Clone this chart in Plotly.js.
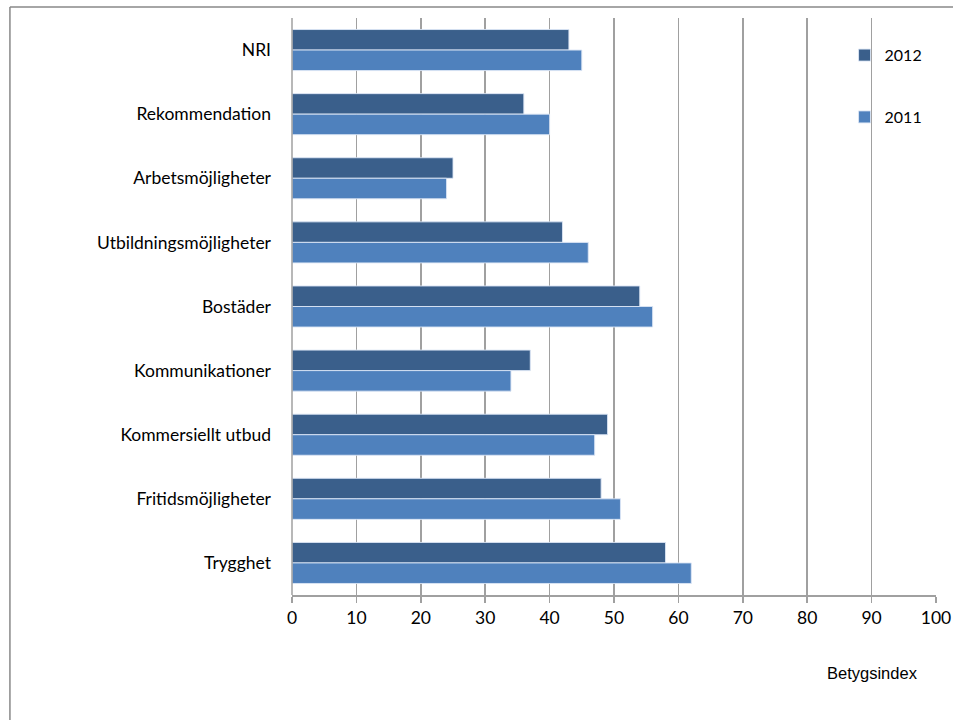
<!DOCTYPE html>
<html>
<head>
<meta charset="utf-8">
<script src="https://cdn.plot.ly/plotly-3.0.1.min.js"></script>
<style>
html,body{margin:0;padding:0;background:#fff;}
#chart{width:953px;height:720px;}
</style>
</head>
<body>
<div id="chart"></div>
<script>
const categories = ["NRI","Rekommendation","Arbetsmöjligheter","Utbildningsmöjligheter","Bostäder","Kommunikationer","Kommersiellt utbud","Fritidsmöjligheter","Trygghet"];
const values2012 = [43,36,25,42,54,37,49,48,58];
const values2011 = [45,40,24,46,56,34,47,51,62];
const xTicks = [0,10,20,30,40,50,60,70,80,90,100];

const labelFont = {family: "Lato, 'Open Sans', sans-serif", size: 17.5, color: "#000"};

const t2012 = {
  type: "bar", orientation: "h", name: "2012", legendgroup: "a",
  x: values2012, y: categories,
  marker: {color: "#3A5F8B", line: {color: "rgba(220,230,245,0.9)", width: 1}}
};
const t2011 = {
  type: "bar", orientation: "h", name: "2011", legendgroup: "b",
  x: values2011, y: categories,
  marker: {color: "#4F81BD", line: {color: "rgba(220,230,245,0.9)", width: 1}}
};

const layout = {
  width: 953, height: 720,
  margin: {l: 292, r: 17, t: 18, b: 125},
  paper_bgcolor: "#fff", plot_bgcolor: "#fff",
  barmode: "group", bargap: 0.36, bargroupgap: 0,
  showlegend: true,
  legend: {
    x: 0.858, y: 0.965, xanchor: "left", yanchor: "top",
    traceorder: "grouped", tracegroupgap: 38,
    itemwidth: 30,
    font: {family: "Lato, 'Open Sans', sans-serif", size: 16, color: "#000"},
    bgcolor: "rgba(0,0,0,0)"
  },
  xaxis: {
    range: [0, 100], tickvals: xTicks, ticktext: xTicks.map(String),
    showgrid: true, gridcolor: "#A0A0A0", gridwidth: 1.5,
    showline: true, linecolor: "#A0A0A0", linewidth: 1.5,
    ticks: "outside", ticklen: 6, tickcolor: "#A0A0A0", tickwidth: 1.5,
    tickfont: labelFont, zeroline: false, fixedrange: true
  },
  yaxis: {
    categoryorder: "array", categoryarray: categories,
    autorange: "reversed",
    showgrid: false, zeroline: false, showline: false,
    ticks: "", ticklabelstandoff: 20,
    tickfont: labelFont, fixedrange: true
  },
  shapes: [
    {type: "line", xref: "paper", yref: "paper", x0: 0, x1: 0, y0: 0, y1: 1, line: {color: "#A0A0A0", width: 1.5}},
    {type: "line", xref: "paper", yref: "paper", x0: -0.438, x1: 1.03, y0: 1.0192, y1: 1.0192, line: {color: "#888", width: 1.5}},
    {type: "line", xref: "paper", yref: "paper", x0: -0.438, x1: -0.438, y0: 1.0192, y1: -0.22, line: {color: "#888", width: 1.5}}
  ],
  annotations: [
    {text: "Betygsindex", xref: "paper", yref: "paper", x: 0.902, y: -0.135, xanchor: "center", yanchor: "middle",
     showarrow: false, font: {family: "'Liberation Sans', Arial, sans-serif", size: 16.5, color: "#000"}}
  ]
};

Plotly.newPlot("chart", [t2012, t2011], layout, {displayModeBar: false, staticPlot: true});
</script>
</body>
</html>
